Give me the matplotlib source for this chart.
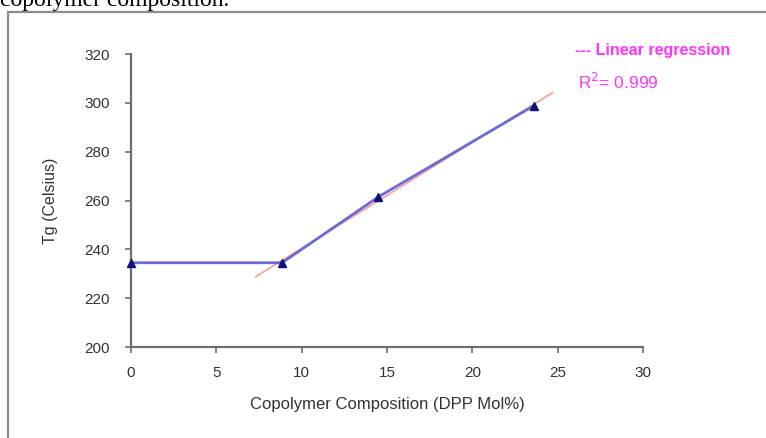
import numpy as np
import matplotlib
matplotlib.use("Agg")
import matplotlib.pyplot as plt
from matplotlib.patches import Rectangle

# Data
composition = [0.0, 8.85, 14.5, 23.6]
tg = [234.5, 234.5, 261.5, 298.8]
fit_x = [8.85, 14.5, 23.6]
fit_y = [234.5, 261.5, 298.8]
fit_range = [7.3, 24.7]
x_ticks = [0, 5, 10, 15, 20, 25, 30]
y_ticks = [200, 220, 240, 260, 280, 300, 320]
r2_text = "0.999"

W, H = 766, 438
fig = plt.figure(figsize=(W / 100, H / 100), dpi=100)
fig.patch.set_facecolor("white")

# caption fragment at top (cut off in the reference)
fig.text(0.0, 1 - 6 / H, "copolymer composition.", family="Liberation Serif",
         fontsize=17, va="baseline", ha="left", color="black")

# frame around the figure (cut at right/bottom)
fig.patches.append(Rectangle((8 / W, -0.05), 1.2, 1 - 12 / H + 0.05,
                             transform=fig.transFigure, fill=False,
                             edgecolor="#8c8c8c", linewidth=1.6))

ax = fig.add_axes([131 / W, (H - 347) / H, 512 / W, 293 / H])
ax.set_xlim(0, 30)
ax.set_ylim(200, 320)

# regression line
coef = np.polyfit(fit_x, fit_y, 1)
rx = np.array(fit_range)
ax.plot(rx, np.polyval(coef, rx), color="#ff9a9a", linewidth=1.2, zorder=2)

# data line
ax.plot(composition, tg, color="#6a6ad8", linewidth=2.0, zorder=3)
ax.plot(composition, tg, linestyle="none", marker="^", markersize=6,
        color="#10107a", zorder=4, clip_on=False)

for s in ["top", "right"]:
    ax.spines[s].set_visible(False)
for s in ["left", "bottom"]:
    ax.spines[s].set_color("#6e6e6e")
    ax.spines[s].set_linewidth(1.6)

ax.set_xticks(x_ticks)
ax.set_yticks(y_ticks)
ax.tick_params(axis="both", direction="out", length=4, width=1.2,
               color="#6e6e6e", labelsize=11, labelcolor="#333333")
ax.tick_params(axis="x", pad=10)
ax.tick_params(axis="y", pad=11)
for lab in ax.get_xticklabels() + ax.get_yticklabels():
    lab.set_family("Liberation Sans")

ax.set_xlabel("Copolymer Composition (DPP Mol%)", family="Liberation Sans",
              fontsize=12, color="#333333", va="center")
ax.xaxis.set_label_coords(0.5, (347 - 405) / 293)
ax.set_ylabel("Tg (Celsius)", family="Liberation Sans", fontsize=11.5,
              color="#333333", va="center")
ax.yaxis.set_label_coords((50 - 131) / 512, 0.5)

fig.text(575 / W, 1 - 51 / H, "--- Linear regression", family="Liberation Sans",
         fontsize=11.5, fontweight="bold", color="#ff33ff", va="center", ha="left")
fig.text(578 / W, 1 - 82 / H, "R$^{2}$= " + r2_text, family="Liberation Sans",
         fontsize=12.5, color="#ff33ff", va="center", ha="left")

fig.savefig("out.png", dpi=100)
